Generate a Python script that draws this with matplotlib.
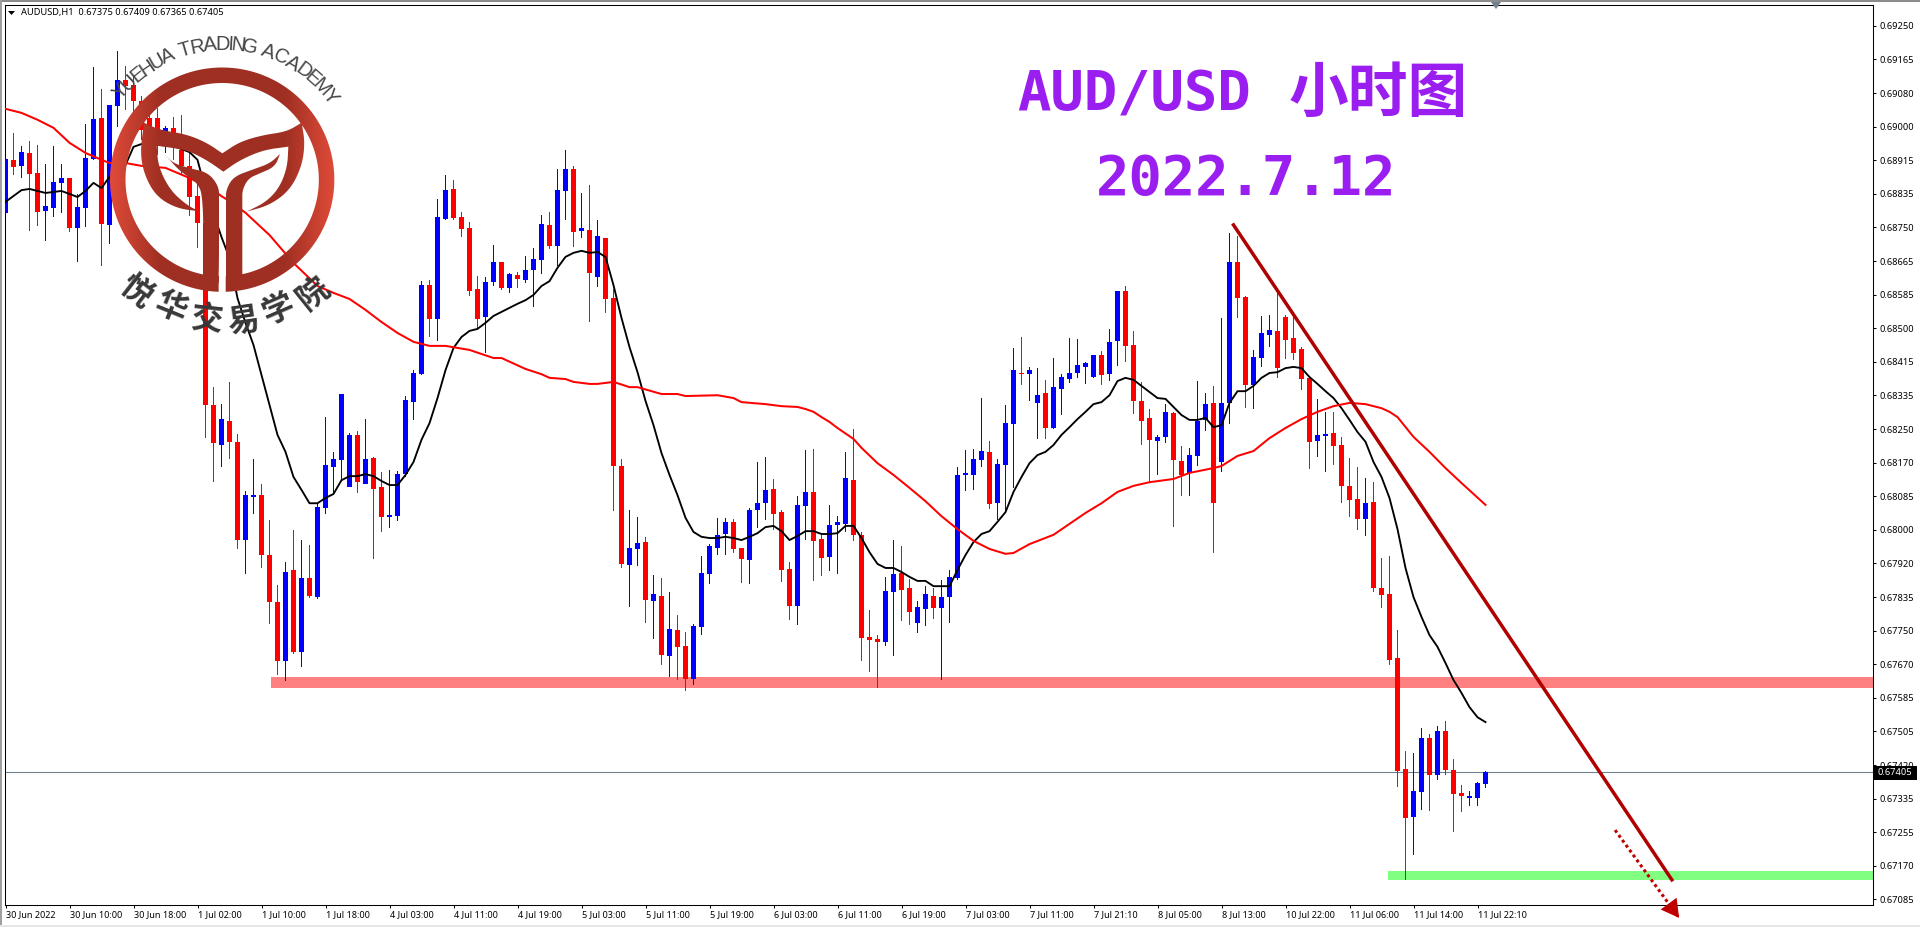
#!/usr/bin/env python3
# -*- coding: utf-8 -*-

import numpy as np
import matplotlib
matplotlib.use("Agg")
import matplotlib.pyplot as plt
from matplotlib.patches import Polygon, Rectangle
from matplotlib.path import Path
from matplotlib.textpath import TextPath
from matplotlib.font_manager import FontProperties

plt.rcParams['font.family'] = ['Noto Sans', 'DejaVu Sans']

# prices, in 1e-5 units
opens = [68788,68919,68904,68936,68887,68792,68800,68862,68874,68750,
         68800,68921,69023,68758,69052,69116,69104,69064,69023,69023,
         68956,68998,68943,68904,68829,68763,68313,68215,68273,68222,
         67979,68085,68090,67942,67826,67680,67905,67702,67885,67838,
         68058,68159,68177,68110,68239,68117,68182,68110,68036,68038,
         68142,68320,68389,68609,68525,68773,68847,68778,68750,68600,
         68530,68617,68667,68602,68634,68622,68647,68671,68758,68706,
         68842,68896,68743,68746,68629,68726,68577,68162,67917,67957,
         67974,67828,67841,67692,67757,67717,67636,67764,67895,67959,
         67994,68024,67959,67930,68053,68070,68105,68048,67908,67816,
         68063,68098,67982,67937,68016,68019,68127,67992,67739,67734,
         67727,67851,67897,67860,67774,67809,67841,67811,67838,67885,
         68140,68140,68177,68197,68070,68164,68266,68392,68389,68318,
         68342,68256,68352,68377,68392,68407,68382,68436,68389,68471,
         68595,68461,68323,68281,68224,68234,68293,68174,68145,68187,
         68276,68318,68172,68318,68667,68580,68362,68429,68486,68496,
         68530,68478,68451,68380,68224,68236,68244,68215,68113,68080,
         68031,68073,67860,67846,67687,67413,67294,67356,67490,67398,
         67507,67411,67353,67341,67341,67375]
highs = [69035,68985,68953,68966,68956,68909,68953,68909,68874,68834,
         69008,69148,69094,69055,69188,69151,69129,69077,69047,69047,
         69003,69025,69030,68936,68894,68771,68357,68315,68370,68241,
         68100,68179,68117,68029,67868,67925,68004,67979,67966,68070,
         68283,68197,68340,68244,68248,68278,68184,68147,68152,68150,
         68335,68399,68619,68622,68822,68882,68869,68790,68765,68632,
         68629,68708,68667,68639,68642,68681,68701,68783,68790,68896,
         68943,68904,68837,68857,68771,68726,68600,68179,68053,68036,
         67987,67893,67885,67851,67794,67752,67772,67940,67969,68034,
         68034,68031,67959,68058,68172,68184,68130,68053,67925,68088,
         68202,68204,67996,68066,68038,68197,68253,67999,67806,67744,
         67888,67979,67964,67883,67828,67865,67860,67880,67905,68159,
         68202,68204,68330,68224,68179,68313,68454,68481,68407,68404,
         68375,68429,68389,68478,68476,68419,68436,68446,68501,68595,
         68607,68496,68370,68303,68239,68315,68296,68212,68207,68372,
         68342,68360,68528,68738,68731,68582,68449,68533,68535,68592,
         68535,68530,68456,68380,68328,68296,68296,68234,68182,68159,
         68132,68122,67935,67940,67757,67458,67453,67514,67500,67519,
         67532,67438,67373,67358,67381,67409]
lows = [68771,68882,68874,68743,68756,68718,68778,68788,68741,68667,
        68753,68919,68656,68711,69000,69042,69030,68968,68943,68931,
        68936,68919,68882,68780,68701,68231,68122,68159,68179,67957,
        67895,68043,67910,67772,67646,67631,67697,67665,67836,67833,
        68043,68090,68127,68110,68095,68117,67932,67999,68009,68026,
        68135,68276,68387,68481,68471,68771,68771,68728,68582,68498,
        68441,68607,68597,68590,68602,68614,68555,68637,68698,68656,
        68771,68703,68726,68518,68605,68540,68051,67910,67814,67915,
        67774,67734,67670,67641,67633,67606,67621,67744,67870,67942,
        67942,67947,67873,67870,68009,68029,68004,67875,67782,67769,
        67979,67878,67890,67902,67895,67999,67977,67680,67653,67613,
        67717,67692,67779,67769,67749,67767,67784,67633,67774,67880,
        68100,68103,68159,68056,68029,68046,68108,68362,68323,68229,
        68229,68253,68288,68367,68380,68365,68380,68362,68372,68409,
        68419,68291,68215,68122,68140,68219,68011,68088,68088,68162,
        68248,67947,68147,68266,68528,68306,68303,68407,68456,68380,
        68427,68424,68350,68155,68184,68147,68164,68070,68036,68004,
        67989,67851,67811,67670,67368,67139,67200,67312,67309,67386,
        67398,67257,67307,67322,67322,67365]
closes = [68921,68901,68938,68884,68790,68805,68864,68874,68750,68802,
          68924,69020,68760,69055,69116,69101,69064,68993,68980,68968,
          68998,68953,68904,68827,68763,68313,68219,68278,68222,67979,
          68090,68090,67942,67826,67680,67900,67702,67885,67841,68061,
          68164,68179,68340,68239,68122,68179,68105,68036,68041,68142,
          68325,68392,68609,68525,68778,68844,68775,68748,68595,68525,
          68617,68667,68602,68637,68624,68647,68674,68760,68706,68844,
          68896,68741,68750,68639,68731,68575,68162,67920,67959,67971,
          67831,67846,67695,67759,67715,67636,67767,67897,67964,67992,
          68024,67957,67932,68053,68070,68103,68043,67905,67816,68066,
          68098,67977,67935,68016,68024,68132,67992,67737,67732,67727,
          67853,67895,67856,67801,67814,67846,67811,67838,67888,68140,
          68145,68179,68199,68068,68167,68268,68399,68389,68399,68337,
          68256,68357,68382,68392,68412,68417,68436,68387,68469,68595,
          68459,68323,68273,68227,68234,68296,68177,68140,68189,68273,
          68315,68070,68318,68667,68577,68362,68431,68491,68498,68404,
          68474,68441,68377,68222,68239,68241,68212,68113,68078,68031,
          68070,67860,67843,67682,67408,67292,67358,67490,67398,67507,
          67411,67351,67346,67346,67378,67405]

# short moving average (black)
fast_bars = [0,2,3,5,7,9,10,11,12,13,15,16,17,19,21,23,24,25] + list(range(27,186))
fast_vals = [68815,68844,68847,68837,68842,68827,68842,68862,68849,68877,68906,68951,68958,68956,68953,68938,68919,68844,
             68728,68676,68577,68516,68461,68387,68313,68239,68197,68135,68103,68070,68070,68083,68093,68127,68137,68137,
             68142,68137,68125,68115,68115,68140,68172,68227,68268,68330,68399,68454,68481,68496,68501,68516,68533,68543,
             68553,68563,68572,68585,68607,68619,68652,68679,68689,68694,68689,68691,68679,68609,68528,68456,68394,68323,
             68263,68194,68140,68090,68034,67999,67987,67984,67984,67987,67984,67979,67987,67996,68011,68014,68001,67979,
             67989,68001,68001,67994,67994,67996,68014,68014,67984,67949,67920,67910,67910,67900,67888,67878,67878,67865,
             67865,67865,67905,67942,67974,67994,68001,68024,68048,68098,68135,68169,68189,68197,68214,68239,68258,68278,
             68296,68315,68320,68337,68372,68380,68375,68360,68345,68330,68328,68308,68288,68276,68276,68281,68258,68263,
             68318,68347,68347,68360,68380,68392,68394,68404,68407,68404,68382,68365,68347,68330,68305,68276,68246,68222,
             68172,68135,68083,68006,67910,67838,67789,67744,67715,67675,67633,67601,67566,67541,67529]

# long moving average (red)
slow_bars = [0,2,4,6,8,10,12,13,15,17,20,23,26,27,28,30,33,36,39,41,43,45,47,49,51,53,55,58,61,62,65,67,68,70,71,73,74,76,78,79,
             82,84,85,89,91,92,95,97,99,100,101,102,103,104,106,107,109,111,113,115,117,119,121,123,125,126,128,131,133,135,
             137,139,141,143,146,148,151,152,154,156,158,160,162,164,166,168,170,172,173,174,176,178,180,182,185]
slow_vals = [69045,69035,69018,68998,68961,68936,68919,68911,68911,68904,68899,68874,68844,68829,68817,68788,68733,68664,
             68607,68590,68575,68548,68518,68491,68469,68459,68459,68449,68429,68429,68402,68389,68380,68377,68370,68365,
             68365,68370,68357,68357,68340,68340,68335,68337,68330,68320,68315,68310,68308,68303,68296,68283,68271,68256,
             68229,68207,68169,68140,68108,68075,68038,68006,67977,67957,67945,67947,67969,67992,68019,68046,68070,68098,
             68113,68122,68130,68145,68157,68162,68187,68199,68231,68256,68278,68296,68310,68318,68315,68305,68296,68283,
             68234,68197,68157,68120,68066]

last_price = 0.67405
resistance_band = [0.67613, 0.67640]
resistance_from = 33.2
support_band = [0.67139, 0.67161]
support_from = 172.75
trend_x = [153.5, 208.3]
trend_y = [0.68758, 0.67139]
target_x = [201.2, 209.2]
target_y = [0.67262, 0.67045]

xtick_labels = ['30 Jun 2022','30 Jun 10:00','30 Jun 18:00','1 Jul 02:00','1 Jul 10:00','1 Jul 18:00',
                '4 Jul 03:00','4 Jul 11:00','4 Jul 19:00','5 Jul 03:00','5 Jul 11:00','5 Jul 19:00',
                '6 Jul 03:00','6 Jul 11:00','6 Jul 19:00','7 Jul 03:00','7 Jul 11:00','7 Jul 21:10',
                '8 Jul 05:00','8 Jul 13:00','10 Jul 22:00','11 Jul 06:00','11 Jul 14:00','11 Jul 22:10']
ytick_labels = ['0.69250','0.69165','0.69080','0.69000','0.68915','0.68835','0.68750','0.68665','0.68585',
                '0.68500','0.68415','0.68335','0.68250','0.68170','0.68085','0.68000','0.67920','0.67835',
                '0.67750','0.67670','0.67585','0.67505','0.67420','0.67335','0.67255','0.67170','0.67085']

W, H = 1920, 927
fig = plt.figure(figsize=(W/100, H/100), dpi=100, facecolor='white')
ax = fig.add_axes([4.5/W, 1-904.5/H, 1868/W, 900/H])
ax.set_xlim(-0.125, 233.375)
ax.set_ylim(0.670781, 0.693029)

bars = np.arange(len(opens))
o = np.array(opens)/1e5
h = np.array(highs)/1e5
l = np.array(lows)/1e5
c = np.array(closes)/1e5
colors = ['#0000ff' if b >= a else '#ff0000' for a, b in zip(o, c)]

ax.fill_between([resistance_from, 233.375], *resistance_band, color='#ff8080', lw=0, zorder=1)
ax.fill_between([support_from, 233.375], *support_band, color='#80ff80', lw=0, zorder=1)
ax.axhline(last_price, color='#708090', lw=0.8, zorder=1.5)
# wicks as one pixel bars so they stay thin
ax.bar(bars, h-l, bottom=l, width=1/8, color=colors, linewidth=0, zorder=2)
ax.bar(bars, np.abs(c-o), bottom=np.minimum(o, c), width=5/8, color=colors, linewidth=0, zorder=3)
ax.plot(fast_bars, np.array(fast_vals)/1e5, color='black', lw=1.35, zorder=4)
ax.plot(slow_bars, np.array(slow_vals)/1e5, color='#ff0000', lw=1.45, zorder=4)
ax.plot(trend_x, trend_y, color='#b00000', lw=2.5, zorder=6, clip_on=False)
ax.plot(target_x, target_y, color='#c00000', lw=2.2, ls=(0, (1, 1)), zorder=6, clip_on=False)
ax.annotate('', xy=(target_x[1], target_y[1]), xytext=(target_x[1]-1.3, target_y[1]+0.00035),
            arrowprops=dict(arrowstyle='-|>,head_length=0.75,head_width=0.42', color='#c00000', lw=0,
                            mutation_scale=17, shrinkA=0, shrinkB=0),
            annotation_clip=False, zorder=7)

ax.yaxis.tick_right()
ax.set_xticks(bars[::8])
ax.set_xticklabels(xtick_labels, ha='left', fontsize=6.5)
ax.set_yticks([0.69250-k*0.00083058 for k in range(len(ytick_labels))])
ax.set_yticklabels(ytick_labels, fontsize=6.7)
ax.tick_params(axis='both', length=2.2, width=0.75, color='black', labelcolor='black')
ax.tick_params(axis='x', pad=2)
ax.tick_params(axis='y', pad=3)
for s in ax.spines.values():
    s.set_linewidth(0.75)
    s.set_color('black')

# overlay in image pixels for window parts, headings and the logo
ov = fig.add_axes([0, 0, 1, 1])
ov.axis('off')

ov.add_patch(Rectangle((0, 0), W, 2, color='#8c8c8c', lw=0))
ov.add_patch(Rectangle((0, 0), 2, H, color='#a0a0a0', lw=0))
ov.add_patch(Rectangle((0, 925), W, 2, color='#e6e6e6', lw=0))
ov.add_patch(Polygon([(1491, 2), (1501, 2), (1496, 9)], color='#70808c', lw=0))
ov.add_patch(Polygon([(8, 11), (15, 11), (11.5, 15)], color='black', lw=0))
ov.text(21, 12, 'AUDUSD,H1  0.67375 0.67409 0.67365 0.67405', fontsize=6.7, va='center', ha='left', color='black')

ov.add_patch(Rectangle((1873, 765.5), 44, 14, color='black', lw=0))
ov.text(1878, 772.5, '0.67405', fontsize=6.7, color='white', va='center', ha='left')

purple = '#9b1ef0'
ov.text(1134, 95, 'AUD/USD', family=['DejaVu Sans Mono'], weight='bold', fontsize=40, color=purple, ha='center', va='center')
ov.text(1378, 95, '小时图', family=['Noto Sans CJK SC'], weight='bold', fontsize=43, color=purple, ha='center', va='center')
ov.text(1246, 179, '2022.7.12', family=['DejaVu Sans Mono'], weight='bold', fontsize=40, color=purple, ha='center', va='center')


def chaikin(pts, n=3):
    # rounds a run of outline points, the two end points stay as sharp tips
    pts = np.array(pts, dtype=float)
    for _ in range(n):
        q = 0.75*pts[:-1]+0.25*pts[1:]
        r = 0.25*pts[:-1]+0.75*pts[1:]
        mid = np.empty((2*len(q), 2))
        mid[0::2] = q
        mid[1::2] = r
        pts = np.vstack([pts[0], mid, pts[-1]])
    return pts


def outline(*runs):
    pts = np.vstack([chaikin(run) for run in runs])/3
    return Path(np.vstack([pts, pts[0]]), closed=True)


# logo, outline read at 3x zoom
cx, cy, r_out, r_in = 666.5, 539.0, 336.5, 290.0
a_out = np.radians(np.linspace(-178.2, 178.2, 240))
a_in = np.radians(np.linspace(177.9, -177.9, 240))
ring = np.vstack([np.c_[cx+r_out*np.sin(a_out), cy-r_out*np.cos(a_out)],
                  np.c_[cx+r_in*np.sin(a_in), cy-r_in*np.cos(a_in)]])/3
ring_path = Path(np.vstack([ring, ring[0]]), closed=True)

tail_path = outline(
    [(432,368),(480,390),(560,403),(620,428),(667,460)],
    [(667,460),(720,425),(790,405),(860,395),(905,368)],
    [(905,368),(915,430),(905,500),(870,570),(810,615),(740,635)],
    [(740,635),(800,605),(840,560),(862,500),(865,440)],
    [(865,440),(790,450),(720,480),(670,515)],
    [(670,515),(620,480),(560,450),(470,437)],
    [(470,437),(475,500),(510,570),(560,615),(598,634)],
    [(598,634),(530,625),(470,590),(435,530),(420,460),(432,368)])
left_path = outline(
    [(610,835),(610,590),(590,545),(540,515),(495,463)],
    [(495,463),(520,490),(570,505),(625,518),(657,560),(657,600)],
    [(657,600),(657,845),(650,868),(630,873)],
    [(630,873),(610,860),(610,835)])
right_path = outline(
    [(678,600),(678,570),(700,530),(760,508),(810,490),(840,462)],
    [(840,462),(825,500),(780,520),(745,535),(727,570),(727,600)],
    [(727,600),(727,835)],
    [(727,835),(727,860),(695,873)],
    [(695,873),(680,868),(678,845)],
    [(678,845),(678,600)])

logo_path = Path.make_compound_path(ring_path, tail_path, left_path, right_path)
u = np.abs(np.linspace(-1, 1, 256))
t = np.clip((u-0.55)/0.45, 0, 1)[None, :, None]
dark = np.array([0x9e, 0x2f, 0x22])/255
bright = np.array([0xe0, 0x4b, 0x39])/255
grad = dark+(bright-dark)*t
im = ov.imshow(grad, extent=((cx-r_out)/3, (cx+r_out)/3, (cy+r_out)/3, (cy-r_out)/3), aspect='auto', zorder=5)
im.set_clip_path(logo_path, transform=ov.transData)
ov.set_xlim(0, W)
ov.set_ylim(H, 0)

en_text = 'YUEHUA TRADING ACADEMY'
en_font = FontProperties(family='Liberation Sans')
widths = []
for ch in en_text:
    widths.append(0.3 if ch == ' ' else TextPath((0, 0), ch, size=1, prop=en_font).get_extents().width+0.09)
widths = np.array(widths)
centres = (np.cumsum(widths)-widths/2)/widths.sum()
for ch, f in zip(en_text, centres):
    th = np.radians(-52+107*f)
    ov.text(223+135*np.sin(th), 179.7-135*np.cos(th), ch, family='Liberation Sans', fontsize=14.5, color='#484848',
            rotation=-np.degrees(th), rotation_mode='anchor', ha='center', va='center', zorder=6)

cn_chars = ['悦', '华', '交', '易', '学', '院']
cn_pos = [(405,878), (510,925), (620,960), (730,965), (835,930), (940,880)]
for ch, (zx, zy) in zip(cn_chars, cn_pos):
    rot = np.degrees(np.arctan2(zx-cx, zy-cy))
    ov.text(zx/3, zy/3, ch, family=['Noto Sans CJK SC'], weight='bold', fontsize=23, color='#383838',
            rotation=rot, rotation_mode='anchor', ha='center', va='center', zorder=6)

fig.savefig('out.png', dpi=100)
